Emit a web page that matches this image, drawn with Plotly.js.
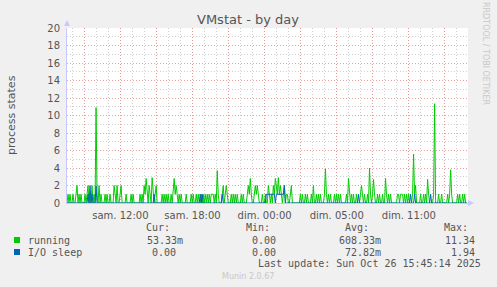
<!DOCTYPE html>
<html><head><meta charset="utf-8">
<script src="https://cdn.plot.ly/plotly-3.0.1.min.js"></script>
<style>html,body{margin:0;padding:0;background:#F0F0F0;overflow:hidden;}</style>
</head><body><div id="chart" style="width:497px;height:287px;"></div>
<script>
// Sampling grid: 5-minute samples, hours counted from Saturday 00:00 (pre-DST clock)
const startHour = 7.56;
const stepHours = 5 / 60;

// running (processes), one value per 5-minute sample
const running = [
  0,1,0,1,0,0,1,0,0,1,2,0,1,0,1,0,0,0,1,0,
  1,2,0,1,0,2,0,1,0,10.9,1,0,2,0,1,0,0,0,1,0,
  1,0,0,1,0,0,0,2,1,0,2,0,0,1,2,0,0,0,0,1,
  0,0,0,0,1,0,1,0,0,0,0,0,0,1,0,1,0,2,1,2.8,
  1,0,2,1,0,2.9,1,0,1,2,0,0,0,0,0,1,0,1,0,1,
  0,1,0,0,1,0,2,2.8,1,2,1,0,1,0,1,0,0,0,0,1,
  0,0,0,0,1,0,1,0,0,1,0,1,0,0,1,0,1,0,1,0,
  1,0,1,0,1,1,1,0,1,0,3.7,1,0,0,0,1,2,0,1,2,
  1,0,0,0,1,0,1,0,1,0,1,0,0,0,1,0,1,0,0,0,
  1,2,1,2.8,1,0,0,1,2,1,2,1,0,0,0,1,0,0,1,0,
  0,2,1,0,1,0,2,1,2.8,2,1,2.9,1,2,1,0,1,2,0,1,
  1,0,0,1,2,0,0,0,0,0,0,0,0,1,0,1,0,0,1,0,
  1,0,0,0,1,0,2,0,0,1,0,1,0,1,0,0,0,1,3.9,1,
  0,1,0,1,0,0,0,1,0,1,0,1,0,1,0,0,0,0,0,1,
  0,2.8,1,0,1,0,1,0,0,1,0,0,0,1,2,1,0,1,0,0,
  1,0,4,1,0,1,2.7,1,0,0,1,0,1,0,0,1,0,0,2.8,1,
  0,1,0,1,0,0,0,0,0,0,1,1,0,1,1,1,0,1,0,1,
  0,1,0,0,0,1,5.6,1,2,0,0,0,0,1,0,0,1,0,1,0,
  2.7,1,0,0,0,0,1,11.34,0,0,0,1,0,0,1,0,0,0,0,0,
  1,0,1,3.8,1,0,0,0,0,0,1,0,1,0,0,1,0,1,0,0.05
];

// I/O sleep: zero except at these sample indices
const ioSleepIdx = [21,23,25,29,87,133,135,155,
  199,200,201,202,203,204,205,206,207,208,209,210,211,212,213,214,215,216,217,
  291,343,347,363];
const ioSleepVal = [1,2,1,1.94,1,1,1,1,
  1,1,1,1,1,1,1,1,1,0,1,1,1,1,1,1,1,1,2,
  1,1,1,1];

const tickVals = [9,12,15,18,21,24,27,30,33,36,39];
const tickText = ['','sam. 12:00','','sam. 18:00','','dim. 00:00','','dim. 05:00','','dim. 11:00',''];

const legendNames = ['running','I/O sleep'];
const legendCur = ['53.33m','0.00'];
const legendMin = ['0.00','0.00'];
const legendAvg = ['608.33m','72.82m'];
const legendMax = ['11.34','1.94'];
const colors = ['#00CC00','#0066B3'];

const times = running.map((_, i) => startHour + i * stepHours);
const ioSleep = running.map(() => 0);
ioSleepIdx.forEach((k, j) => { ioSleep[k] = ioSleepVal[j]; });

// pixel helpers for plot area (l=67, r=468, top=28, bottom=203)
const L = 67, R = 468, T = 28, B = 203;
const px = p => (p - L) / (R - L);
const py = p => (B - p) / (B - T);

const traces = [
  {x: times, y: running, type: 'scatter', mode: 'lines', line: {color: colors[0], width: 1}, hoverinfo: 'skip'},
  {x: times, y: ioSleep, type: 'scatter', mode: 'lines', line: {color: colors[1], width: 1}, hoverinfo: 'skip'}
];

const txt = '#555';
const ann = [];
function addText(t, x, y, opts) {
  ann.push(Object.assign({text: t, x: px(x), y: py(y), xref: 'paper', yref: 'paper', showarrow: false,
    xanchor: 'left', yanchor: 'middle', font: {family: 'DejaVu Sans Mono', size: 10, color: txt}}, opts || {}));
}
addText('Cur:', 172, 227, {xanchor: 'right'});
addText('Min:', 272, 227, {xanchor: 'right'});
addText('Avg:', 371, 227, {xanchor: 'right'});
addText('Max:', 470, 227, {xanchor: 'right'});
const rowY = [240, 252];
const curRight = [185, 178];
for (let r = 0; r < 2; r++) {
  addText(legendNames[r], 26, rowY[r]);
  addText(legendCur[r], curRight[r], rowY[r], {xanchor: 'right'});
  addText(legendMin[r], 278, rowY[r], {xanchor: 'right'});
  addText(legendAvg[r], 383, rowY[r], {xanchor: 'right'});
  addText(legendMax[r], 477, rowY[r], {xanchor: 'right'});
}
addText('Last update: Sun Oct 26 15:45:14 2025', 483, 263, {xanchor: 'right'});
addText('Munin 2.0.67', 248, 276, {xanchor: 'center', font: {family: 'DejaVu Sans', size: 8, color: '#c8c8c8'}});
addText('RRDTOOL / TOBI OETIKER', 486, 53, {xanchor: 'center', textangle: 90, font: {family: 'DejaVu Sans', size: 8, color: '#c8c8c8'}});
addText('process states', 11, 115, {xanchor: 'center', textangle: -90, font: {family: 'DejaVu Sans', size: 11, color: txt}});
addText('VMstat - by day', 248, 20, {xanchor: 'center', font: {family: 'DejaVu Sans', size: 13, color: txt}});

const shapes = [];
// legend colour boxes
for (let r = 0; r < 2; r++) {
  shapes.push({type: 'rect', xref: 'paper', yref: 'paper', x0: px(14), x1: px(20), y0: py(rowY[r] - 3), y1: py(rowY[r] + 3),
    fillcolor: colors[r], line: {width: 0}});
}
// axis arrows
const arrowCol = '#C8C8FF';
shapes.push({type: 'path', xref: 'paper', yref: 'paper',
  path: `M ${px(64)} ${py(26)} L ${px(70)} ${py(26)} L ${px(67)} ${py(20)} Z`, fillcolor: arrowCol, line: {width: 0}});
shapes.push({type: 'path', xref: 'paper', yref: 'paper',
  path: `M ${px(468)} ${py(200)} L ${px(468)} ${py(206)} L ${px(474)} ${py(203)} Z`, fillcolor: arrowCol, line: {width: 0}});

const majorGrid = 'rgba(228,140,140,0.8)';
const minorGrid = '#CFCFCF';
const layout = {
  width: 497, height: 287,
  margin: {l: L, r: 497 - R, t: T, b: 287 - B},
  paper_bgcolor: '#F0F0F0', plot_bgcolor: '#FFFFFF',
  showlegend: false,
  font: {family: 'DejaVu Sans', size: 10, color: txt},
  xaxis: {
    range: [startHour, startHour + 401 / 12.02], tickmode: 'array', tickvals: tickVals, ticktext: tickText,
    showgrid: true, gridcolor: majorGrid, griddash: '1px,2px', gridwidth: 1,
    minor: {tickmode: 'linear', tick0: 0, dtick: 1, showgrid: true, gridcolor: minorGrid, griddash: '1px,2px', gridwidth: 1},
    ticks: 'outside', ticklen: 3, tickcolor: 'rgba(0,0,0,0)',
    showline: true, linecolor: '#C8C8FF', linewidth: 1, layer: 'below traces', zeroline: false,
    tickfont: {family: 'DejaVu Sans', size: 10, color: txt}, fixedrange: true
  },
  yaxis: {
    range: [0, 20], tickmode: 'linear', tick0: 0, dtick: 2,
    showgrid: true, gridcolor: majorGrid, griddash: '1px,2px', gridwidth: 1,
    minor: {tickmode: 'linear', tick0: 0, dtick: 1, showgrid: true, gridcolor: minorGrid, griddash: '1px,2px', gridwidth: 1},
    ticks: 'outside', ticklen: 4, tickcolor: 'rgba(0,0,0,0)',
    showline: true, linecolor: '#C8C8FF', linewidth: 1, layer: 'below traces', zeroline: false,
    tickfont: {family: 'DejaVu Sans', size: 10, color: txt}, fixedrange: true
  },
  annotations: ann,
  shapes: shapes
};

Plotly.newPlot('chart', traces, layout, {displayModeBar: false, staticPlot: true});
</script></body></html>
